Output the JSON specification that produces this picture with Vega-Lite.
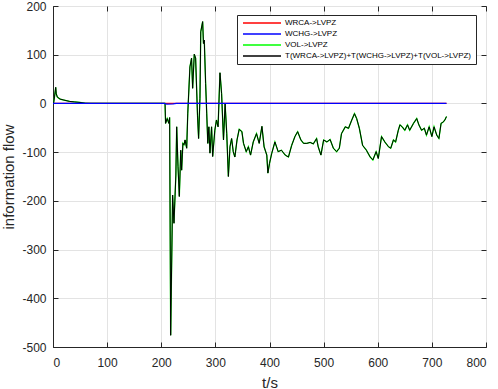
{
  "$schema": "https://vega.github.io/schema/vega-lite/v6.json",
  "width": 433,
  "height": 341,
  "autosize": {"type": "none"},
  "padding": {"left": 53, "top": 6, "right": 12, "bottom": 42},
  "background": "white",
  "config": {
    "locale": {"number": {"decimal": ".", "thousands": ",", "grouping": [3], "currency": ["$", ""], "minus": "-"}},
    "font": "Liberation Sans",
    "view": {"stroke": "#262626", "strokeWidth": 1},
    "axis": {
      "gridColor": "#e3e3e3",
      "gridWidth": 1,
      "domainColor": "#262626",
      "tickColor": "#262626",
      "labelColor": "#262626",
      "titleColor": "#262626",
      "labelFont": "Liberation Sans",
      "titleFont": "Liberation Sans",
      "labelFontSize": 12,
      "titleFontSize": 15,
      "titleFontWeight": "normal",
      "tickSize": -5
    },
    "legend": {
      "orient": "none",
      "legendX": 184,
      "legendY": 9,
      "fillColor": "white",
      "strokeColor": "#262626",
      "padding": 4,
      "symbolType": "M-1,0H18",
      "symbolSize": 16,
      "symbolStrokeWidth": 1.5,
      "labelFont": "Liberation Sans",
      "labelFontSize": 8,
      "labelColor": "#000000",
      "labelOffset": 36,
      "labelLimit": 400,
      "rowPadding": 3
    }
  },
  "datasets": {
    "flat": [
      {"t": 0, "wrca": 0, "wchg": 0},
      {"t": 206, "wrca": 0, "wchg": 0},
      {"t": 210, "wrca": 0, "wchg": -1.5},
      {"t": 222, "wrca": 0, "wchg": -1},
      {"t": 228, "wrca": 0, "wchg": 0},
      {"t": 727, "wrca": 0, "wchg": 0}
    ],
    "flow": [
      {"t": 1, "vol": 0, "tot": 0},
      {"t": 3, "vol": 15, "tot": 15},
      {"t": 5, "vol": 33, "tot": 33},
      {"t": 6, "vol": 20, "tot": 20},
      {"t": 8, "vol": 13, "tot": 13},
      {"t": 13, "vol": 9, "tot": 9},
      {"t": 20, "vol": 7, "tot": 7},
      {"t": 31, "vol": 4, "tot": 4},
      {"t": 40, "vol": 3, "tot": 3},
      {"t": 50, "vol": 2, "tot": 2},
      {"t": 59, "vol": 0.5, "tot": 0.5},
      {"t": 70, "vol": 0.2, "tot": 0.2},
      {"t": 120, "vol": 0.1, "tot": 0.1},
      {"t": 206, "vol": 0.1, "tot": 0.1},
      {"t": 207, "vol": 0, "tot": 0},
      {"t": 208, "vol": -41, "tot": -41},
      {"t": 211, "vol": -31, "tot": -31},
      {"t": 214, "vol": -41, "tot": -41},
      {"t": 215.5, "vol": -29, "tot": -29},
      {"t": 217.4, "vol": -476, "tot": -476},
      {"t": 221, "vol": -188, "tot": -188},
      {"t": 223.5, "vol": -246, "tot": -246},
      {"t": 227, "vol": -147, "tot": -147},
      {"t": 228.5, "vol": -48, "tot": -48},
      {"t": 231, "vol": -130, "tot": -130},
      {"t": 233.4, "vol": -191, "tot": -191},
      {"t": 236, "vol": -96, "tot": -96},
      {"t": 237.7, "vol": -137, "tot": -137},
      {"t": 240, "vol": -82, "tot": -82},
      {"t": 242, "vol": -85, "tot": -85},
      {"t": 244, "vol": -75, "tot": -75},
      {"t": 247, "vol": -92, "tot": -92},
      {"t": 249, "vol": -20, "tot": -20},
      {"t": 253, "vol": 75, "tot": 75},
      {"t": 256, "vol": 93, "tot": 93},
      {"t": 258, "vol": 31, "tot": 31},
      {"t": 261, "vol": 101, "tot": 101},
      {"t": 263.5, "vol": 93, "tot": 93},
      {"t": 267, "vol": -24, "tot": -24},
      {"t": 269, "vol": -72, "tot": -72},
      {"t": 271.5, "vol": 10, "tot": 10},
      {"t": 273, "vol": 147, "tot": 147},
      {"t": 276.5, "vol": 168, "tot": 168},
      {"t": 278, "vol": 123, "tot": 123},
      {"t": 279.5, "vol": 130, "tot": 130},
      {"t": 282, "vol": 41, "tot": 41},
      {"t": 284, "vol": -20, "tot": -20},
      {"t": 286, "vol": -82, "tot": -82},
      {"t": 288, "vol": -48, "tot": -48},
      {"t": 290, "vol": -102, "tot": -102},
      {"t": 293, "vol": -48, "tot": -48},
      {"t": 295, "vol": -109, "tot": -109},
      {"t": 299, "vol": -55, "tot": -55},
      {"t": 302, "vol": -34, "tot": -34},
      {"t": 305, "vol": -48, "tot": -48},
      {"t": 308.5, "vol": 63, "tot": 63},
      {"t": 311.5, "vol": 20, "tot": 20},
      {"t": 315, "vol": -75, "tot": -75},
      {"t": 318, "vol": -1, "tot": -1},
      {"t": 321, "vol": -62, "tot": -62},
      {"t": 324, "vol": -150, "tot": -150},
      {"t": 327, "vol": -89, "tot": -89},
      {"t": 330, "vol": -72, "tot": -72},
      {"t": 333, "vol": -99, "tot": -99},
      {"t": 336, "vol": -110, "tot": -110},
      {"t": 340, "vol": -75, "tot": -75},
      {"t": 344, "vol": -53, "tot": -53},
      {"t": 349, "vol": -58, "tot": -58},
      {"t": 352, "vol": -82, "tot": -82},
      {"t": 357, "vol": -99, "tot": -99},
      {"t": 361, "vol": -89, "tot": -89},
      {"t": 365, "vol": -106, "tot": -106},
      {"t": 370, "vol": -79, "tot": -79},
      {"t": 376, "vol": -62, "tot": -62},
      {"t": 381, "vol": -82, "tot": -82},
      {"t": 386, "vol": -47, "tot": -47},
      {"t": 390, "vol": -89, "tot": -89},
      {"t": 395, "vol": -106, "tot": -106},
      {"t": 397, "vol": -143, "tot": -143},
      {"t": 400, "vol": -123, "tot": -123},
      {"t": 404, "vol": -103, "tot": -103},
      {"t": 410, "vol": -79, "tot": -79},
      {"t": 416, "vol": -99, "tot": -99},
      {"t": 422, "vol": -96, "tot": -96},
      {"t": 429, "vol": -106, "tot": -106},
      {"t": 435, "vol": -110, "tot": -110},
      {"t": 441, "vol": -86, "tot": -86},
      {"t": 447, "vol": -68, "tot": -68},
      {"t": 452, "vol": -58, "tot": -58},
      {"t": 458, "vol": -75, "tot": -75},
      {"t": 463, "vol": -82, "tot": -82},
      {"t": 469, "vol": -82, "tot": -82},
      {"t": 475, "vol": -80, "tot": -80},
      {"t": 481, "vol": -83, "tot": -83},
      {"t": 487, "vol": -72, "tot": -72},
      {"t": 490, "vol": -89, "tot": -89},
      {"t": 495, "vol": -106, "tot": -106},
      {"t": 500, "vol": -75, "tot": -75},
      {"t": 506, "vol": -79, "tot": -79},
      {"t": 512, "vol": -74, "tot": -74},
      {"t": 518, "vol": -92, "tot": -92},
      {"t": 524, "vol": -99, "tot": -99},
      {"t": 529, "vol": -92, "tot": -92},
      {"t": 533, "vol": -62, "tot": -62},
      {"t": 540, "vol": -48, "tot": -48},
      {"t": 546, "vol": -51, "tot": -51},
      {"t": 552, "vol": -34, "tot": -34},
      {"t": 557, "vol": -21, "tot": -21},
      {"t": 561, "vol": -31, "tot": -31},
      {"t": 566, "vol": -51, "tot": -51},
      {"t": 572, "vol": -86, "tot": -86},
      {"t": 579, "vol": -96, "tot": -96},
      {"t": 586, "vol": -110, "tot": -110},
      {"t": 591, "vol": -116, "tot": -116},
      {"t": 597, "vol": -99, "tot": -99},
      {"t": 601, "vol": -113, "tot": -113},
      {"t": 607, "vol": -68, "tot": -68},
      {"t": 613, "vol": -79, "tot": -79},
      {"t": 620, "vol": -89, "tot": -89},
      {"t": 624, "vol": -92, "tot": -92},
      {"t": 629, "vol": -75, "tot": -75},
      {"t": 633, "vol": -79, "tot": -79},
      {"t": 638, "vol": -55, "tot": -55},
      {"t": 641, "vol": -44, "tot": -44},
      {"t": 645, "vol": -48, "tot": -48},
      {"t": 650, "vol": -55, "tot": -55},
      {"t": 655, "vol": -44, "tot": -44},
      {"t": 659, "vol": -55, "tot": -55},
      {"t": 666, "vol": -41, "tot": -41},
      {"t": 672, "vol": -31, "tot": -31},
      {"t": 676, "vol": -44, "tot": -44},
      {"t": 681, "vol": -55, "tot": -55},
      {"t": 686, "vol": -51, "tot": -51},
      {"t": 690, "vol": -65, "tot": -65},
      {"t": 695, "vol": -48, "tot": -48},
      {"t": 700, "vol": -68, "tot": -68},
      {"t": 704, "vol": -48, "tot": -48},
      {"t": 709, "vol": -65, "tot": -65},
      {"t": 713, "vol": -72, "tot": -72},
      {"t": 717, "vol": -41, "tot": -41},
      {"t": 721, "vol": -38, "tot": -38},
      {"t": 724, "vol": -34, "tot": -34},
      {"t": 727, "vol": -27, "tot": -27}
    ]
  },
  "layer": [
    {
      "data": {"name": "flat"},
      "mark": {"type": "line", "strokeWidth": 1.2},
      "encoding": {
        "x": {"field": "t", "type": "quantitative", "scale": {"domain": [0, 800], "nice": false},
              "axis": {"orient": "bottom", "title": "t/s", "values": [0,100,200,300,400,500,600,700,800], "grid": true, "labelPadding": 15, "titlePadding": 7}},
        "y": {"field": "wrca", "type": "quantitative", "scale": {"domain": [-500, 200], "nice": false},
              "axis": {"orient": "left", "title": "information flow", "values": [-500,-400,-300,-200,-100,0,100,200], "grid": true, "labelPadding": 12, "titlePadding": 5}},
        "color": {"datum": "WRCA->LVPZ", "type": "nominal",
                  "scale": {"domain": ["WRCA->LVPZ", "WCHG->LVPZ", "VOL->LVPZ", "T(WRCA->LVPZ)+T(WCHG->LVPZ)+T(VOL->LVPZ)"], "range": ["#ff0000", "#0000ff", "#00ff00", "#000000"]},
                  "legend": {"title": null}}
      }
    },
    {
      "data": {"name": "flow"},
      "mark": {"type": "line", "strokeWidth": 1.3},
      "encoding": {
        "x": {"field": "t", "type": "quantitative", "axis": null},
        "y": {"field": "vol", "type": "quantitative", "axis": null},
        "color": {"datum": "VOL->LVPZ", "type": "nominal"}
      }
    },
    {
      "data": {"name": "flow"},
      "mark": {"type": "line", "strokeWidth": 1},
      "encoding": {
        "x": {"field": "t", "type": "quantitative", "axis": null},
        "y": {"field": "tot", "type": "quantitative", "axis": null},
        "color": {"datum": "T(WRCA->LVPZ)+T(WCHG->LVPZ)+T(VOL->LVPZ)", "type": "nominal"}
      }
    },
    {
      "data": {"name": "flat"},
      "mark": {"type": "line", "strokeWidth": 1.2},
      "encoding": {
        "x": {"field": "t", "type": "quantitative",
              "axis": {"orient": "top", "title": null, "labels": false, "grid": false, "domain": false, "values": [0,100,200,300,400,500,600,700,800]}},
        "y": {"field": "wchg", "type": "quantitative",
              "axis": {"orient": "right", "title": null, "labels": false, "grid": false, "domain": false, "values": [-500,-400,-300,-200,-100,0,100,200]}},
        "color": {"datum": "WCHG->LVPZ", "type": "nominal"}
      }
    }
  ]
}
